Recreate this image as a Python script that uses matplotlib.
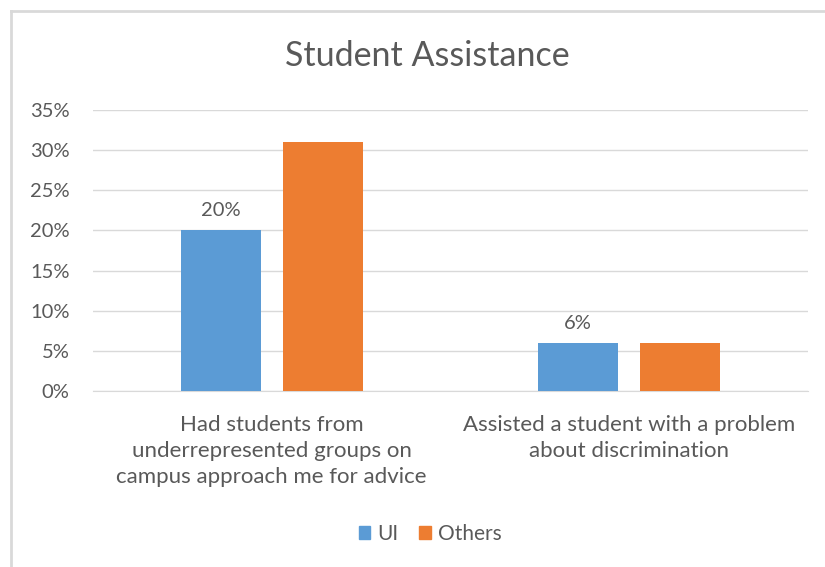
import matplotlib
matplotlib.use('Agg')
import matplotlib.pyplot as plt
from matplotlib.lines import Line2D
from matplotlib.patches import Patch
import numpy as np

# ---------------------- Data ---------------------- #
categories = ['Had students from\nunderrepresented groups on\ncampus approach me for advice',
              'Assisted a student with a problem\nabout discrimination']
ui_values = [0.20, 0.06]
others_values = [0.31, 0.06]
ui_labels = ['20%', '6%']
yticks = [0, 0.05, 0.10, 0.15, 0.20, 0.25, 0.30, 0.35]

# ---------------------- Style ---------------------- #
BLUE = '#5B9BD5'
ORANGE = '#ED7D31'
TEXT = '#595959'
GRID = '#D9D9D9'
FS = 14.5
CENTER_X = 427 / 825  # horizontal centre of the chart frame
plt.rcParams['font.family'] = ['Lato', 'DejaVu Sans']

fig = plt.figure(figsize=(8.25, 5.67), dpi=100)
ax = fig.add_axes([93 / 825, 176 / 567, 715 / 825, 281 / 567])

x = np.arange(len(categories))
width = 0.224
offset = 0.143
ax.bar(x - offset, ui_values, width, color=BLUE, label='UI', zorder=3)
ax.bar(x + offset, others_values, width, color=ORANGE, label='Others', zorder=3)

# value labels on the UI series only
for xi, v, lab in zip(x, ui_values, ui_labels):
    ax.annotate(lab, (xi - offset, v), xytext=(0, 8), textcoords='offset points',
                ha='center', va='bottom', fontsize=FS, color=TEXT)

ax.set_xlim(-0.5, 1.5)
ax.set_ylim(0, 0.35)
ax.set_yticks(yticks)
ax.set_yticklabels([f'{int(round(t * 100))}%' for t in yticks])
ax.set_xticks(x)
ax.set_xticklabels(categories, linespacing=1.4, fontsize=16)
ax.tick_params(axis='both', length=0, colors=TEXT, labelsize=FS)
ax.tick_params(axis='x', labelsize=16, pad=17)
ax.tick_params(axis='y', pad=17)
ax.grid(axis='y', color=GRID, linewidth=1, zorder=0)
for s in ['top', 'right', 'left']:
    ax.spines[s].set_visible(False)
ax.spines['bottom'].set_color(GRID)
ax.spines['bottom'].set_zorder(1)

fig.text(CENTER_X, 1 - 56 / 567, 'Student Assistance', ha='center', va='center',
         fontsize=24.5, color=TEXT)

handles = [Patch(color=BLUE, label='UI'), Patch(color=ORANGE, label='Others')]
fig.legend(handles=handles, loc='center', bbox_to_anchor=(CENTER_X + 0.004, 1 - 534 / 567), ncol=2,
           frameon=False, fontsize=15, labelcolor=TEXT, handlelength=0.55,
           handleheight=0.55, handletextpad=0.35, columnspacing=1.0)

# chart border
fig.add_artist(Line2D([11 / 825, 1], [1 - 11 / 567, 1 - 11 / 567], color=GRID, linewidth=2))
fig.add_artist(Line2D([11 / 825, 11 / 825], [0, 1 - 11 / 567], color=GRID, linewidth=2))

fig.savefig('out.png', dpi=100, facecolor='white')
